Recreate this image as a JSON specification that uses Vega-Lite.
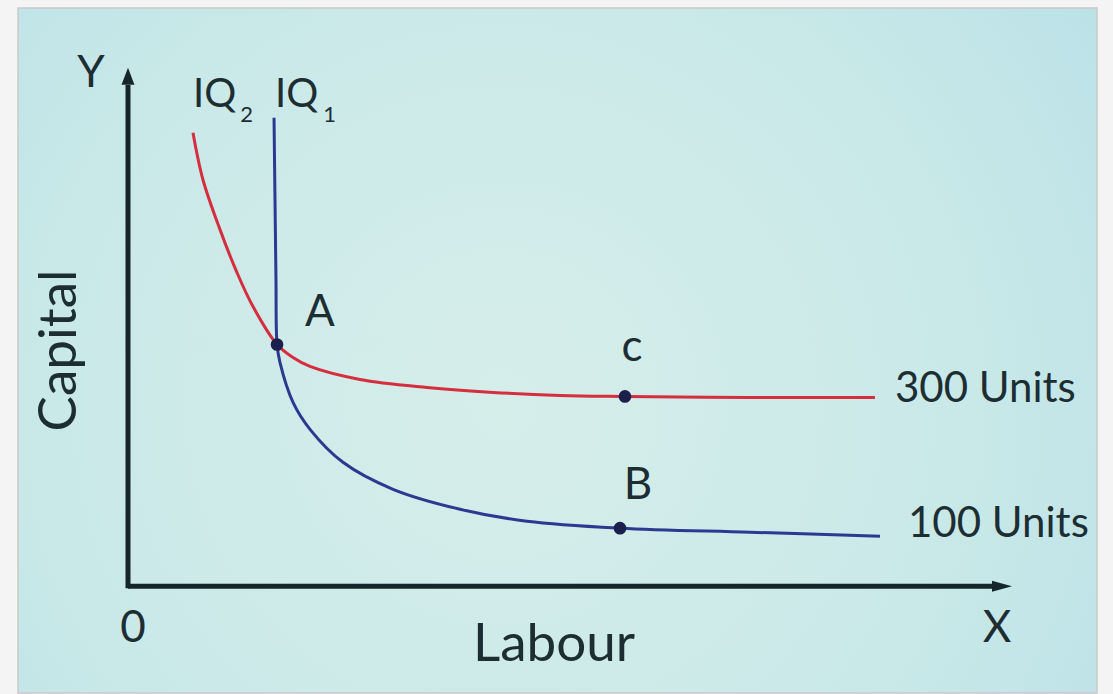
{
  "$schema": "https://vega.github.io/schema/vega-lite/v6.json",
  "autosize": {"type": "fit", "contains": "padding"},
  "width": 1113,
  "height": 694,
  "padding": 0,
  "background": "#f4f4f4",
  "config": {"view": {"stroke": null}},
  "datasets": {
    "panel": [{"x": -1.244, "x2": 10.962, "y": 11.156, "y2": -2.062}],
    "axes": [
      {"axis": "X", "x": 0, "y": 0, "x2": 9.774, "y2": 0},
      {"axis": "Y", "x": 0, "y": -0.04, "x2": 0, "y2": 9.67}
    ],
    "arrows": [
      {"axis": "X", "x": 9.887, "y": 0},
      {"axis": "Y", "x": 0, "y": 9.837}
    ],
    "curves": [
      {"curve": "IQ2", "order": 1, "labour": 0.735, "capital": 8.748},
      {"curve": "IQ2", "order": 2, "labour": 0.848, "capital": 7.842},
      {"curve": "IQ2", "order": 3, "labour": 1.041, "capital": 6.879},
      {"curve": "IQ2", "order": 4, "labour": 1.233, "capital": 6.050},
      {"curve": "IQ2", "order": 5, "labour": 1.414, "capital": 5.395},
      {"curve": "IQ2", "order": 6, "labour": 1.686, "capital": 4.663},
      {"curve": "IQ2", "order": 7, "labour": 1.867, "capital": 4.412},
      {"curve": "IQ2", "order": 8, "labour": 2.059, "capital": 4.239},
      {"curve": "IQ2", "order": 9, "labour": 2.624, "capital": 3.988},
      {"curve": "IQ2", "order": 10, "labour": 3.382, "capital": 3.834},
      {"curve": "IQ2", "order": 11, "labour": 4.129, "capital": 3.738},
      {"curve": "IQ2", "order": 12, "labour": 4.887, "capital": 3.680},
      {"curve": "IQ2", "order": 13, "labour": 5.622, "capital": 3.661},
      {"curve": "IQ2", "order": 14, "labour": 7.036, "capital": 3.642},
      {"curve": "IQ2", "order": 15, "labour": 8.450, "capital": 3.642},
      {"curve": "IQ1", "order": 1, "labour": 1.652, "capital": 9.037},
      {"curve": "IQ1", "order": 2, "labour": 1.663, "capital": 7.457},
      {"curve": "IQ1", "order": 3, "labour": 1.674, "capital": 5.915},
      {"curve": "IQ1", "order": 4, "labour": 1.686, "capital": 4.663},
      {"curve": "IQ1", "order": 5, "labour": 1.719, "capital": 4.316},
      {"curve": "IQ1", "order": 6, "labour": 1.867, "capital": 3.545},
      {"curve": "IQ1", "order": 7, "labour": 2.059, "capital": 3.025},
      {"curve": "IQ1", "order": 8, "labour": 2.432, "capital": 2.389},
      {"curve": "IQ1", "order": 9, "labour": 2.998, "capital": 1.869},
      {"curve": "IQ1", "order": 10, "labour": 3.756, "capital": 1.484},
      {"curve": "IQ1", "order": 11, "labour": 4.514, "capital": 1.252},
      {"curve": "IQ1", "order": 12, "labour": 5.566, "capital": 1.118},
      {"curve": "IQ1", "order": 13, "labour": 7.036, "capital": 1.040},
      {"curve": "IQ1", "order": 14, "labour": 8.507, "capital": 0.963}
    ],
    "dots": [
      {"point": "A", "labour": 1.686, "capital": 4.663},
      {"point": "c", "labour": 5.622, "capital": 3.661},
      {"point": "B", "labour": 5.566, "capital": 1.118}
    ],
    "titles": [
      {"text": "Labour", "x": 4.819, "y": -1.445, "angle": 0},
      {"text": "Capital", "x": -0.588, "y": 4.547, "angle": 270}
    ],
    "letters": [
      {"text": "Y", "x": -0.419, "y": 9.634},
      {"text": "X", "x": 9.83, "y": -1.079},
      {"text": "0", "x": 0.057, "y": -1.079},
      {"text": "A", "x": 2.172, "y": 5.01},
      {"text": "c", "x": 5.701, "y": 4.335},
      {"text": "B", "x": 5.769, "y": 1.676}
    ],
    "units": [
      {"text": "300 Units", "x": 8.676, "y": 3.545},
      {"text": "100 Units", "x": 8.824, "y": 0.944}
    ],
    "iq": [
      {"text": "IQ", "x": 0.735, "y": 9.249},
      {"text": "IQ", "x": 1.663, "y": 9.249}
    ],
    "subs": [
      {"text": "2", "x": 1.27, "y": 8.96},
      {"text": "1", "x": 2.21, "y": 8.96}
    ]
  },
  "layer": [
    {
      "data": {"name": "panel"},
      "mark": {
        "type": "rect",
        "stroke": "#c9c9c9",
        "strokeWidth": 1.5,
        "fill": {
          "gradient": "radial",
          "x1": 0.45, "y1": 0.55, "r1": 0,
          "x2": 0.45, "y2": 0.55, "r2": 0.75,
          "stops": [
            {"offset": 0, "color": "#d6eeea"},
            {"offset": 0.6, "color": "#c8e8e8"},
            {"offset": 1, "color": "#b6dfe7"}
          ]
        }
      },
      "encoding": {
        "x": {"field": "x", "type": "quantitative", "axis": null, "scale": {"domain": [-1.448, 11.143], "nice": false, "zero": false}},
        "x2": {"field": "x2"},
        "y": {"field": "y", "type": "quantitative", "axis": null, "scale": {"domain": [-2.062, 11.31], "nice": false, "zero": false}},
        "y2": {"field": "y2"}
      }
    },
    {
      "data": {"name": "axes"},
      "mark": {"type": "rule", "strokeWidth": 5, "color": "#15262a"},
      "encoding": {
        "x": {"field": "x", "type": "quantitative"},
        "x2": {"field": "x2"},
        "y": {"field": "y", "type": "quantitative"},
        "y2": {"field": "y2"}
      }
    },
    {
      "data": {"name": "arrows"},
      "transform": [{"filter": "datum.axis === 'X'"}],
      "mark": {"type": "point", "filled": true, "shape": "M1,0L-1,-0.55L-1,0.55Z", "size": 400, "color": "#15262a", "opacity": 1},
      "encoding": {
        "x": {"field": "x", "type": "quantitative"},
        "y": {"field": "y", "type": "quantitative"}
      }
    },
    {
      "data": {"name": "arrows"},
      "transform": [{"filter": "datum.axis === 'Y'"}],
      "mark": {"type": "point", "filled": true, "shape": "M0,-1L-0.76,1L0.76,1Z", "size": 289, "color": "#15262a", "opacity": 1},
      "encoding": {
        "x": {"field": "x", "type": "quantitative"},
        "y": {"field": "y", "type": "quantitative"}
      }
    },
    {
      "data": {"name": "curves"},
      "mark": {"type": "line", "strokeWidth": 3, "interpolate": "catmull-rom"},
      "encoding": {
        "x": {"field": "labour", "type": "quantitative"},
        "y": {"field": "capital", "type": "quantitative"},
        "order": {"field": "order", "type": "quantitative"},
        "color": {"field": "curve", "type": "nominal", "legend": null, "scale": {"domain": ["IQ2", "IQ1"], "range": ["#d42e3f", "#2b3990"]}}
      }
    },
    {
      "data": {"name": "dots"},
      "mark": {"type": "circle", "size": 160, "color": "#1b1f4b", "opacity": 1},
      "encoding": {
        "x": {"field": "labour", "type": "quantitative"},
        "y": {"field": "capital", "type": "quantitative"}
      }
    },
    {
      "data": {"name": "titles"},
      "mark": {"type": "text", "font": "Lato", "fontSize": 53, "color": "#1d2e33", "align": "center", "baseline": "alphabetic"},
      "encoding": {
        "x": {"field": "x", "type": "quantitative"},
        "y": {"field": "y", "type": "quantitative"},
        "text": {"field": "text"},
        "angle": {"field": "angle", "type": "quantitative", "scale": null}
      }
    },
    {
      "data": {"name": "letters"},
      "mark": {"type": "text", "font": "Lato", "fontSize": 44, "color": "#1d2e33", "align": "center", "baseline": "alphabetic"},
      "encoding": {
        "x": {"field": "x", "type": "quantitative"},
        "y": {"field": "y", "type": "quantitative"},
        "text": {"field": "text"}
      }
    },
    {
      "data": {"name": "units"},
      "mark": {"type": "text", "font": "Lato", "fontSize": 42, "color": "#1d2e33", "align": "left", "baseline": "alphabetic"},
      "encoding": {
        "x": {"field": "x", "type": "quantitative"},
        "y": {"field": "y", "type": "quantitative"},
        "text": {"field": "text"}
      }
    },
    {
      "data": {"name": "iq"},
      "mark": {"type": "text", "font": "Lato", "fontSize": 40, "color": "#1d2e33", "align": "left", "baseline": "alphabetic"},
      "encoding": {
        "x": {"field": "x", "type": "quantitative"},
        "y": {"field": "y", "type": "quantitative"},
        "text": {"field": "text"}
      }
    },
    {
      "data": {"name": "subs"},
      "mark": {"type": "text", "font": "Lato", "fontSize": 22, "color": "#1d2e33", "align": "left", "baseline": "alphabetic"},
      "encoding": {
        "x": {"field": "x", "type": "quantitative"},
        "y": {"field": "y", "type": "quantitative"},
        "text": {"field": "text"}
      }
    }
  ]
}
